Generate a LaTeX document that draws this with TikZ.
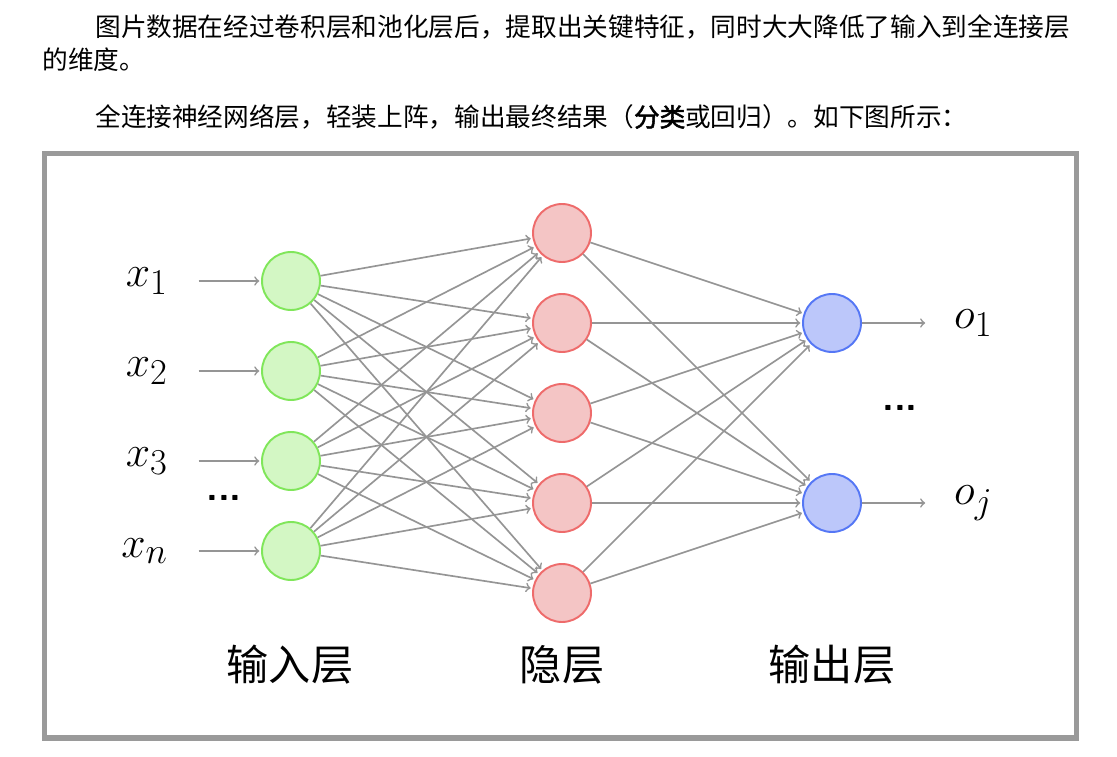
\documentclass[tikz,border=0pt]{standalone}
\usepackage{fontspec}
\newfontfamily\cjk{Noto Sans CJK SC}
\newfontfamily\cjkb[FakeBold=2]{Noto Sans CJK SC}
\definecolor{framegray}{HTML}{9A9A9A}
\definecolor{edgegray}{HTML}{959595}
\definecolor{infill}{HTML}{D3F7C4}
\definecolor{indraw}{HTML}{80E65A}
\definecolor{hidfill}{HTML}{F4C5C5}
\definecolor{hiddraw}{HTML}{EE6B6B}
\definecolor{outfill}{HTML}{BCC7FA}
\definecolor{outdraw}{HTML}{5577F5}
\tikzset{
	neuron/.style={circle, line width=1.1pt, minimum size=1.16cm, inner sep=0pt},
	inneuron/.style={neuron, draw=indraw, fill=infill},
	hidneuron/.style={neuron, draw=hiddraw, fill=hidfill},
	outneuron/.style={neuron, draw=outdraw, fill=outfill},
	wire/.style={->, edgegray, line width=0.95pt, shorten >=1pt},
	para/.style={anchor=west, inner sep=0pt, font=\cjk\fontsize{14.6}{18}\selectfont},
	lbl/.style={font=\fontsize{30}{34}\selectfont},
	dots/.style={font=\bfseries\sffamily\fontsize{22}{24}\selectfont, inner sep=0pt},
	layername/.style={font=\cjk\fontsize{24}{28}\selectfont}
}
\begin{document}
\begin{tikzpicture}[x=0.02cm, y=-0.02cm]
	\useasboundingbox (0,0) rectangle (1117,757);
	% text above the picture
	\node[para] (p1) at (95,27) {图片数据在经过卷积层和池化层后，提取出关键特征，同时大大降低了输入到全连接层};
	\node[para] (p2) at (42,60) {的维度。};
	\node[para] (p3) at (95,117) {全连接神经网络层，轻装上阵，输出最终结果（{\cjkb 分类}或回归）。如下图所示：};
	% frame
	\draw[framegray, line width=3.4pt] (44.5,153.5) rectangle (1076.5,738);
	% layers
	\foreach \i/\y in {1/281, 2/371, 3/461, 4/551}
		\node[inneuron] (in\i) at (291,\y) {};
	\foreach \i/\y in {1/233, 2/323, 3/413, 4/503, 5/593}
		\node[hidneuron] (hid\i) at (562,\y) {};
	\node[outneuron] (out1) at (832,323) {};
	\node[outneuron] (out2) at (832,503) {};
	% inputs
	\foreach \i/\t/\y in {1/1/281, 2/2/371, 3/3/461, 4/n/551}
		\node[lbl, anchor=east] (x\i) at (174,\y) {$x_\t$};
	\node[dots] (indots) at (224,498) {...};
	\foreach \i in {1,...,4}
		\draw[wire] ([xshift=14pt]x\i.east) -- (in\i);
	% outputs
	\node[lbl, anchor=west] (o1) at (948,323) {$o_1$};
	\node[lbl, anchor=west] (o2) at (948,503) {$o_j$};
	\node[dots] (outdots) at (900,408) {...};
	\draw[wire] (out1) -- ([xshift=-12pt]o1.west);
	\draw[wire] (out2) -- ([xshift=-12pt]o2.west);
	% connections
	\foreach \i in {1,...,4}
		\foreach \j in {1,...,5}
			\draw[wire] (in\i) -- (hid\j);
	\foreach \j in {1,...,5}
		\foreach \k in {1,2}
			\draw[wire] (hid\j) -- (out\k);
	% layer names
	\node[layername] (inname) at (290,665) {输入层};
	\node[layername] (hidname) at (562,665) {隐层};
	\node[layername] (outname) at (832,665) {输出层};
\end{tikzpicture}
\end{document}
